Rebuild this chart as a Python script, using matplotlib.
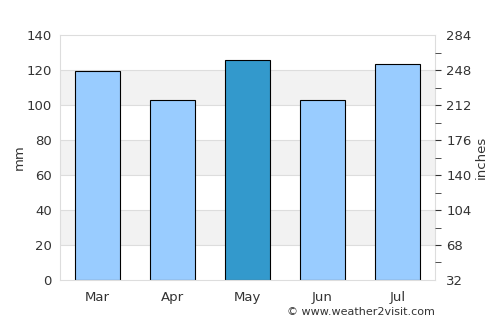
import matplotlib
matplotlib.use("Agg")
import matplotlib.pyplot as plt
from matplotlib.ticker import FixedLocator

months = ["Mar", "Apr", "May", "Jun", "Jul"]
rain_mm = [119.5, 103, 125.5, 103, 123.5]
highlight = "May"
left_ticks = [0, 20, 40, 60, 80, 100, 120, 140]
right_ticks = [32, 68, 104, 140, 176, 212, 248, 284]
right_minor = [50, 86, 122, 158, 194, 230, 266]

fig = plt.figure(figsize=(5, 3.25), dpi=100)
ax = fig.add_axes([0.12, 0.1385, 0.75, 0.7535])

txt = "#333333"
grid = "#dddddd"

# bands
for lo in (20, 60, 100):
    ax.axhspan(lo, lo + 20, color="#f2f2f2", zorder=0, lw=0)
for t in left_ticks[1:-1]:
    ax.axhline(t, color=grid, lw=0.8, zorder=0.5)

x = range(len(months))
colors = ["#3399cc" if m == highlight else "#99ccff" for m in months]
ax.bar(x, rain_mm, width=0.6, color=colors, edgecolor="black", linewidth=0.8, zorder=2)

ax.set_xlim(-0.5, len(months) - 0.5)
ax.set_ylim(0, 140)
ax.set_yticks(left_ticks)
ax.set_xticks(list(x))
ax.set_xticklabels(months)
ax.tick_params(axis="both", length=0, colors=txt, labelsize=9.5, pad=6)
ax.tick_params(axis="x", pad=8)
for s in ("left", "top", "right", "bottom"):
    ax.spines[s].set_color(grid)
ax.set_ylabel("mm", color=txt, fontsize=9.5)
ax.yaxis.set_label_coords(-0.09, 0.5)

ax2 = ax.twinx()
ax2.set_ylim(32, 284)
ax2.set_yticks(right_ticks)
ax2.yaxis.set_minor_locator(FixedLocator(right_minor))
ax2.tick_params(axis="y", which="major", length=4, color="#333333", labelcolor=txt, labelsize=9.5, pad=4)
ax2.tick_params(axis="y", which="minor", length=4, color="#333333")
for s in ax2.spines.values():
    s.set_visible(False)
ax2.set_ylabel("inches", color=txt, fontsize=9.5)
ax2.yaxis.set_label_coords(1.107, 0.5)
fig.canvas.draw()
majors = ax2.yaxis.get_major_ticks()
for t in (majors[0], majors[-1]):
    t.tick2line.set_visible(False)

fig.text(0.87, 0.025, "© www.weather2visit.com", ha="right", va="bottom", fontsize=8, color=txt)

fig.savefig("out.png", dpi=100)
